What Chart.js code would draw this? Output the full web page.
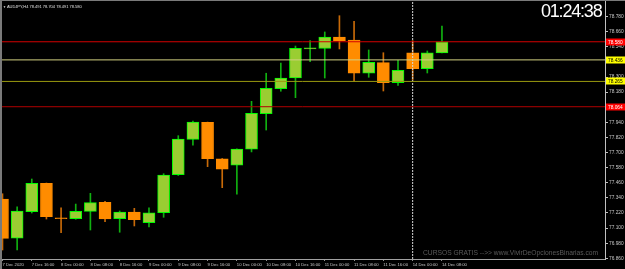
<!DOCTYPE html>
<html>
<head>
<meta charset="utf-8">
<title>AUDJPY,H4</title>
<script src="https://cdn.jsdelivr.net/npm/chart.js@4.4.0/dist/chart.umd.min.js"></script>
<style>
html,body{margin:0;padding:0;background:#000;}
#wrap{position:relative;width:625px;height:269px;overflow:hidden;background:#000;}
#chart{position:absolute;left:0;top:0;}
#frame{position:absolute;left:0;top:0;width:625px;height:269px;border-top:1px solid #7a7a7a;border-left:2px solid #7a7a7a;box-sizing:border-box;pointer-events:none;}
#title{position:absolute;left:3px;top:4px;font:4px "Liberation Sans",sans-serif;color:#e0e0e0;white-space:nowrap;}
#clock{position:absolute;left:541px;top:1px;font:18px "Liberation Sans",sans-serif;color:#fff;letter-spacing:-1.2px;white-space:nowrap;}
#mark{position:absolute;left:423px;top:249px;font:6.7px "Liberation Sans",sans-serif;color:#5a5a5a;white-space:nowrap;}
</style>
</head>
<body>
<div id="wrap">
  <canvas id="chart" width="625" height="269"></canvas>
  <div id="frame"></div>
  <div id="title"></div>
  <div id="clock"></div>
  <div id="mark"></div>
</div>
<script>
// ---------------- Dados ----------------
const symbol = "AUDJPY", timeframe = "H4";
const opens  = [77.331,77.021,77.230,77.456,77.182,77.175,77.233,77.305,77.175,77.228,77.143,77.222,77.524,77.805,77.940,77.651,
                77.599,77.726,78.009,78.207,78.292,78.524,78.528,78.618,78.594,78.330,78.414,78.255,78.493,78.366,78.491];
const highs  = [77.373,77.268,77.490,77.458,77.262,77.291,77.376,77.312,77.236,77.257,77.262,77.532,77.834,77.951,77.942,77.653,
                77.730,78.107,78.330,78.411,78.546,78.589,78.658,78.787,78.743,78.515,78.493,78.433,78.589,78.507,78.704];
const lows   = [76.926,76.926,77.220,77.172,77.063,77.170,77.085,77.151,77.067,77.117,77.109,77.186,77.518,77.758,77.588,77.421,
                77.369,77.705,77.879,78.187,78.136,78.422,78.292,78.523,78.268,78.298,78.189,78.234,78.276,78.332,78.491];
const closes = [77.019,77.236,77.456,77.191,77.174,77.233,77.302,77.172,77.228,77.167,77.222,77.522,77.808,77.943,77.651,77.569,
                77.728,78.012,78.210,78.292,78.528,78.532,78.618,78.589,78.330,78.417,78.255,78.353,78.366,78.493,78.580];
const timeLabels = ["7 Dec 2020","7 Dec 16:00","8 Dec 00:00","8 Dec 08:00","8 Dec 16:00","9 Dec 00:00","9 Dec 08:00","9 Dec 16:00",
                    "10 Dec 00:00","10 Dec 08:00","10 Dec 16:00","11 Dec 00:00","11 Dec 08:00","11 Dec 16:00","14 Dec 00:00","14 Dec 08:00"];
const labelEvery = 2;
const priceTicks = [76.860,76.980,77.100,77.220,77.340,77.460,77.580,77.700,77.820,77.940,78.060,78.180,78.300,78.420,78.540,78.660,78.780];
const levelPrices = [78.580,78.436,78.265,78.064];
const separatorBars = [28];
const clockText = "01:24:38";
const watermarkText = "CURSOS GRATIS -->> www.VivirDeOpcionesBinarias.com";

// ---------------- Estilo ----------------
const yMin = 76.8546, yMax = 78.9038;
const xMin = -0.17, xMax = 41.13;
const bullFill = "#9acd32", bullEdge = "#00ff00", bullWick = "#10b010";
const bearFill = "#ff8c00", bearEdge = "#ff8c00", bearWick = "#c86a08";
const levelStyles = [
  {line:"#d40000", tag:"#ff0000", text:"#ffffff"},
  {line:"#d2d080", tag:"#ffff00", text:"#000000"},
  {line:"#9a9a10", tag:"#ffff00", text:"#000000"},
  {line:"#b00000", tag:"#ff0000", text:"#ffffff"}
];
const yFont = {family:"Liberation Sans", size:4.8};
const xFont = {family:"Liberation Sans", size:4.2};

document.getElementById("title").innerHTML = "<span style='font-size:3px'>&#9660;</span> " + symbol + "," + timeframe + " " +
  [opens, highs, lows, closes].map(a=>a[a.length-1].toFixed(3)).join(" ");
document.getElementById("clock").textContent = clockText;
document.getElementById("mark").textContent = watermarkText;

const isBull = opens.map((o,i)=>closes[i]>=o);

const bodies = opens.map((o,i)=>({x:i, y:[o, closes[i]]}));
const wicks = lows.map((l,i)=>({x:i, y:[l, highs[i]]}));

const levelSets = levelPrices.map((v,i)=>({
  type:"line", order:0, data:[{x:xMin-1,y:v},{x:xMax+1,y:v}],
  borderColor:levelStyles[i].line, borderWidth:1, pointRadius:0
}));
const sepSets = separatorBars.map(b=>({
  type:"line", order:0, data:[{x:b,y:yMin},{x:b,y:yMax}],
  borderColor:"#d8d8d8", borderWidth:1, borderDash:[2,1], pointRadius:0
}));

// etiquetas coloridas no eixo de preços
const levelTags = {
  id:"levelTags",
  afterDraw(chart){
    const {ctx, chartArea, scales:{y}} = chart;
    ctx.save();
    ctx.font = '4.8px "Liberation Sans", sans-serif';
    ctx.textBaseline = "middle";
    levelPrices.forEach((v,i)=>{
      const py = Math.round(y.getPixelForValue(v));
      ctx.fillStyle = levelStyles[i].tag;
      ctx.fillRect(chartArea.right+1, py-3.5, 20, 7);
      ctx.fillStyle = levelStyles[i].text;
      ctx.fillText(v.toFixed(3), chartArea.right+3, py+0.5);
    });
    ctx.restore();
  }
};

new Chart(document.getElementById("chart"), {
  type:"bar",
  data:{datasets:[
    ...levelSets, ...sepSets,
    {order:1, data:bodies, grouped:false, barPercentage:1, categoryPercentage:1, maxBarThickness:12,
     backgroundColor:isBull.map(b=>b?bullFill:bearFill), borderColor:isBull.map(b=>b?bullEdge:bearEdge),
     borderWidth:1, borderSkipped:false},
    {order:2, data:wicks, grouped:false, barPercentage:1, categoryPercentage:1, maxBarThickness:1,
     backgroundColor:isBull.map(b=>b?bullWick:bearWick), borderWidth:0}
  ]},
  options:{
    responsive:false, animation:false, events:[],
    layout:{padding:{top:1,left:0,right:0,bottom:0}},
    plugins:{legend:{display:false}, tooltip:{enabled:false}},
    scales:{
      x:{
        type:"linear", min:xMin, max:xMax, offset:false,
        afterFit(s){ s.height = 10; s.paddingLeft = 0; s.paddingRight = 0; },
        afterBuildTicks(s){ s.ticks = timeLabels.map((t,k)=>({value:k*labelEvery})); },
        grid:{drawOnChartArea:false, drawTicks:true, tickLength:2, color:"#909090", offset:false},
        border:{display:true, color:"#a0a0a0"},
        ticks:{autoSkip:false, maxRotation:0, align:"start", padding:1, color:"#c8c8c8", font:xFont,
               callback:(v,i)=>timeLabels[i]}
      },
      y:{
        position:"right", min:yMin, max:yMax, offset:false,
        afterFit(s){ s.width = 20; s.paddingTop = 0; s.paddingBottom = 0; },
        afterBuildTicks(s){ s.ticks = priceTicks.map(v=>({value:v})); },
        grid:{drawOnChartArea:false, drawTicks:true, tickLength:3, color:"#c0c0c0"},
        border:{display:true, color:"#c0c0c0"},
        ticks:{autoSkip:false, padding:1, color:"#c8c8c8", font:yFont, callback:v=>v.toFixed(3)}
      }
    }
  },
  plugins:[levelTags]
});
</script>
</body>
</html>
